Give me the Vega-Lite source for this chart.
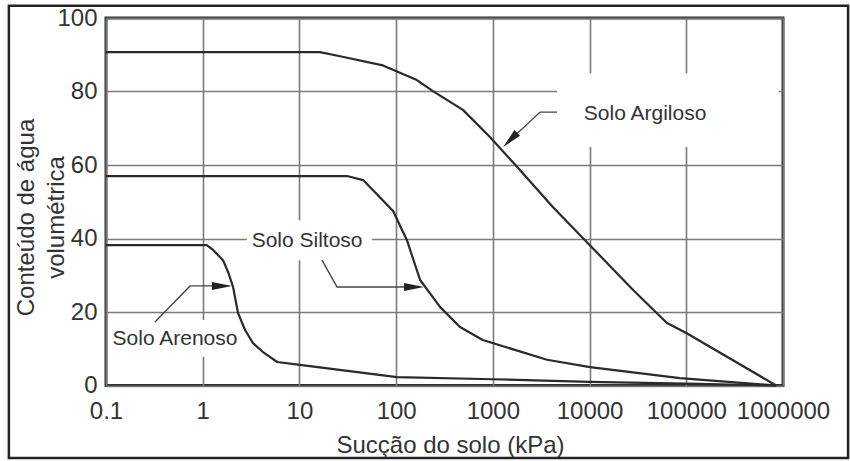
{
  "$schema": "https://vega.github.io/schema/vega-lite/v6.json",
  "width": 677,
  "height": 367.5,
  "autosize": {"type": "none"},
  "padding": {"left": 106, "top": 18, "right": 67, "bottom": 75.5},
  "background": "white",
  "config": {
    "view": {"stroke": "#333333", "strokeWidth": 3},
    "font": "Liberation Sans"
  },
  "datasets": {
    "frame": [{"x": 0.0099, "x2": 4710000, "y": 103.3, "y2": -19.7}],
    "boxes": [
      {"box": "Argiloso", "x": 4610, "x2": 900000, "y": 64.9, "y2": 85.0},
      {"box": "Siltoso", "x": 2.87, "x2": 56.4, "y": 34.1, "y2": 45.0},
      {"box": "Arenoso", "x": 0.11, "x2": 2.43, "y": 7.8, "y2": 17.8}
    ],
    "curves": [
      {"soil": "Solo Argiloso", "ord": 1, "x": 0.1, "y": 90.7},
      {"soil": "Solo Argiloso", "ord": 2, "x": 16.3, "y": 90.7},
      {"soil": "Solo Argiloso", "ord": 3, "x": 26.3, "y": 89.6},
      {"soil": "Solo Argiloso", "ord": 4, "x": 73, "y": 87.1},
      {"soil": "Solo Argiloso", "ord": 5, "x": 164, "y": 83.1},
      {"soil": "Solo Argiloso", "ord": 6, "x": 240, "y": 80.1},
      {"soil": "Solo Argiloso", "ord": 7, "x": 490, "y": 75.0},
      {"soil": "Solo Argiloso", "ord": 8, "x": 933, "y": 67.6},
      {"soil": "Solo Argiloso", "ord": 9, "x": 1778, "y": 59.5},
      {"soil": "Solo Argiloso", "ord": 10, "x": 4170, "y": 48.6},
      {"soil": "Solo Argiloso", "ord": 11, "x": 9550, "y": 38.8},
      {"soil": "Solo Argiloso", "ord": 12, "x": 28200, "y": 26.0},
      {"soil": "Solo Argiloso", "ord": 13, "x": 63100, "y": 17.0},
      {"soil": "Solo Argiloso", "ord": 14, "x": 100000, "y": 14.3},
      {"soil": "Solo Argiloso", "ord": 15, "x": 850000, "y": 0},
      {"soil": "Solo Siltoso", "ord": 1, "x": 0.1, "y": 57.0},
      {"soil": "Solo Siltoso", "ord": 2, "x": 31, "y": 57.0},
      {"soil": "Solo Siltoso", "ord": 3, "x": 45.6, "y": 55.9},
      {"soil": "Solo Siltoso", "ord": 4, "x": 93, "y": 47.5},
      {"soil": "Solo Siltoso", "ord": 5, "x": 129, "y": 39.6},
      {"soil": "Solo Siltoso", "ord": 6, "x": 177, "y": 28.7},
      {"soil": "Solo Siltoso", "ord": 7, "x": 284, "y": 21.4},
      {"soil": "Solo Siltoso", "ord": 8, "x": 457, "y": 15.9},
      {"soil": "Solo Siltoso", "ord": 9, "x": 786, "y": 12.4},
      {"soil": "Solo Siltoso", "ord": 10, "x": 3630, "y": 7.0},
      {"soil": "Solo Siltoso", "ord": 11, "x": 10100, "y": 5.0},
      {"soil": "Solo Siltoso", "ord": 12, "x": 86000, "y": 2.0},
      {"soil": "Solo Siltoso", "ord": 13, "x": 850000, "y": 0},
      {"soil": "Solo Arenoso", "ord": 1, "x": 0.1, "y": 38.2},
      {"soil": "Solo Arenoso", "ord": 2, "x": 1.1, "y": 38.2},
      {"soil": "Solo Arenoso", "ord": 3, "x": 1.28, "y": 36.9},
      {"soil": "Solo Arenoso", "ord": 4, "x": 1.62, "y": 34.1},
      {"soil": "Solo Arenoso", "ord": 5, "x": 1.83, "y": 30.9},
      {"soil": "Solo Arenoso", "ord": 6, "x": 2.06, "y": 26.8},
      {"soil": "Solo Arenoso", "ord": 7, "x": 2.32, "y": 19.7},
      {"soil": "Solo Arenoso", "ord": 8, "x": 2.74, "y": 15.1},
      {"soil": "Solo Arenoso", "ord": 9, "x": 3.3, "y": 11.6},
      {"soil": "Solo Arenoso", "ord": 10, "x": 4.2, "y": 9.1},
      {"soil": "Solo Arenoso", "ord": 11, "x": 5.9, "y": 6.4},
      {"soil": "Solo Arenoso", "ord": 12, "x": 10.1, "y": 5.6},
      {"soil": "Solo Arenoso", "ord": 13, "x": 102, "y": 2.3},
      {"soil": "Solo Arenoso", "ord": 14, "x": 1000, "y": 1.7},
      {"soil": "Solo Arenoso", "ord": 15, "x": 10000, "y": 1.0},
      {"soil": "Solo Arenoso", "ord": 16, "x": 100000, "y": 0.5},
      {"soil": "Solo Arenoso", "ord": 17, "x": 850000, "y": 0}
    ],
    "arrows": [
      {"arrow": "Arenoso", "ord": 1, "x": 0.321, "y": 17.3},
      {"arrow": "Arenoso", "ord": 2, "x": 0.74, "y": 27.1},
      {"arrow": "Arenoso", "ord": 3, "x": 1.58, "y": 27.1},
      {"arrow": "Siltoso", "ord": 1, "x": 17.1, "y": 34.1},
      {"arrow": "Siltoso", "ord": 2, "x": 24.5, "y": 26.8},
      {"arrow": "Siltoso", "ord": 3, "x": 153, "y": 26.8},
      {"arrow": "Argiloso", "ord": 1, "x": 4610, "y": 74.4},
      {"arrow": "Argiloso", "ord": 2, "x": 3080, "y": 74.4},
      {"arrow": "Argiloso", "ord": 3, "x": 1510, "y": 66.8}
    ],
    "heads": [
      {"arrow": "Arenoso", "x": 1.58, "y": 27.1, "angle": 0},
      {"arrow": "Siltoso", "x": 153, "y": 26.8, "angle": 0},
      {"arrow": "Argiloso", "x": 1510, "y": 66.8, "angle": 135}
    ],
    "labels": [
      {"label": "Solo Argiloso", "x": 37500, "y": 72.2},
      {"label": "Solo Siltoso", "x": 12.0, "y": 37.7},
      {"label": "Solo Arenoso", "x": 0.517, "y": 11.0}
    ]
  },
  "encoding": {
    "x": {
      "field": "x",
      "type": "quantitative",
      "scale": {"type": "log", "domain": [0.1, 1000000], "nice": false},
      "axis": {
        "values": [0.1, 1, 10, 100, 1000, 10000, 100000, 1000000],
        "format": ".1~f",
        "labelFontSize": 24,
        "labelColor": "#333333",
        "labelPadding": 14,
        "labelOverlap": false,
        "labelFlush": false,
        "ticks": false,
        "domain": false,
        "grid": true,
        "gridColor": "#7a7a7a",
        "gridWidth": 1.6,
        "title": "Sucção do solo (kPa)",
        "titleFontSize": 24,
        "titleFontWeight": "normal",
        "titleColor": "#333333",
        "titleBaseline": "alphabetic",
        "titleAlign": "center",
        "titleX": 344,
        "titleY": 67
      }
    },
    "y": {
      "field": "y",
      "type": "quantitative",
      "scale": {"domain": [0, 100], "nice": false, "zero": false},
      "axis": {
        "values": [0, 20, 40, 60, 80, 100],
        "labelFontSize": 24,
        "labelColor": "#333333",
        "labelPadding": 9,
        "labelOverlap": false,
        "labelFlush": false,
        "ticks": false,
        "domain": false,
        "grid": true,
        "gridColor": "#7a7a7a",
        "gridWidth": 1.6,
        "title": ["Conteúdo de água", "volumétrica"],
        "titleFontSize": 24,
        "titleFontWeight": "normal",
        "titleColor": "#333333",
        "titleAngle": -90,
        "titleAlign": "center",
        "titleBaseline": "alphabetic",
        "titleLineHeight": 30,
        "titleX": -73,
        "titleY": 199
      }
    }
  },
  "layer": [
    {
      "data": {"name": "frame"},
      "mark": {"type": "rect", "fill": "white", "fillOpacity": 0, "stroke": "#222222", "strokeWidth": 2.5},
      "encoding": {"x2": {"field": "x2"}, "y2": {"field": "y2"}}
    },
    {
      "data": {"name": "boxes"},
      "mark": {"type": "rect", "fill": "white", "stroke": null},
      "encoding": {"x2": {"field": "x2"}, "y2": {"field": "y2"}}
    },
    {
      "data": {"name": "curves"},
      "mark": {"type": "line", "color": "#2a2a2a", "strokeWidth": 2.2, "strokeJoin": "round"},
      "encoding": {
        "detail": {"field": "soil"},
        "order": {"field": "ord", "type": "quantitative"}
      }
    },
    {
      "data": {"name": "arrows"},
      "mark": {"type": "line", "color": "#444444", "strokeWidth": 1.4},
      "encoding": {
        "detail": {"field": "arrow"},
        "order": {"field": "ord", "type": "quantitative"}
      }
    },
    {
      "data": {"name": "heads"},
      "mark": {"type": "point", "shape": "M-1,-0.4L1,0L-1,0.4Z", "filled": true, "color": "#222222", "opacity": 1, "size": 400},
      "encoding": {"angle": {"field": "angle", "type": "quantitative", "scale": null}}
    },
    {
      "data": {"name": "labels"},
      "mark": {"type": "text", "fontSize": 21, "color": "#333333", "align": "center", "baseline": "alphabetic"},
      "encoding": {"text": {"field": "label"}}
    }
  ]
}
